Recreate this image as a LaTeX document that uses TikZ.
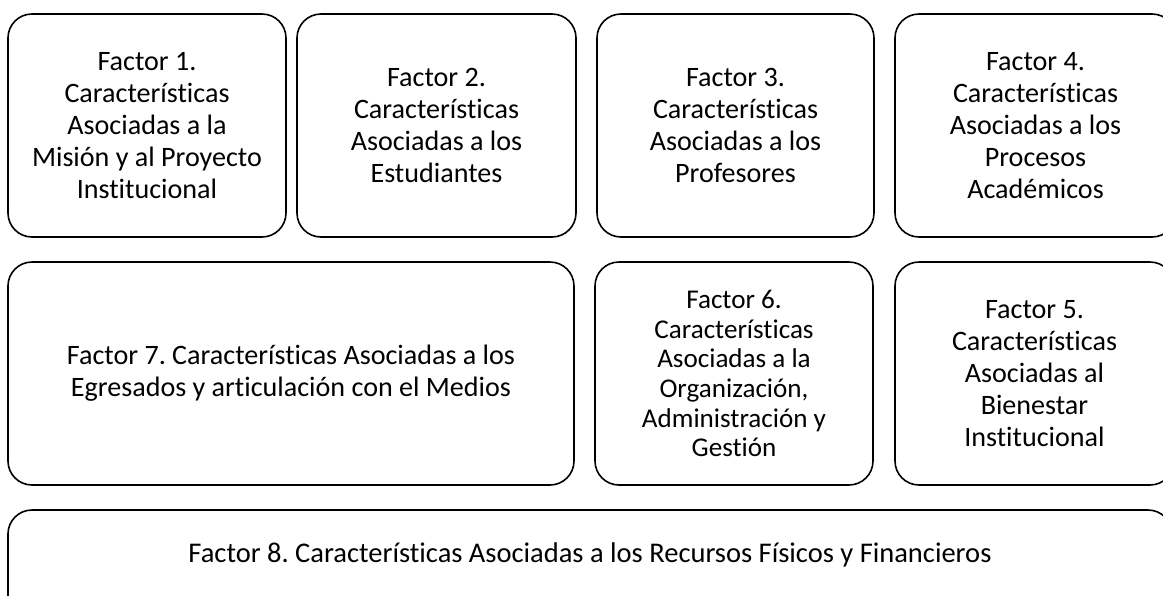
\documentclass[tikz,border=0pt]{standalone}
\usepackage{fontspec}
\setmainfont{Carlito}[RawFeature={-liga}]
\frenchspacing
\begin{document}
\begin{tikzpicture}[x=1pt,y=-1pt,
  fbox/.style={draw=black,line width=1.6pt,rounded corners=24pt,align=center,
    font=\fontsize{28.1}{32}\selectfont,inner sep=0pt},
  ftext/.style={font=\fontsize{28.5}{32}\selectfont,inner sep=0pt}]
\useasboundingbox (0,0) rectangle (1163,595);
\clip (0,0) rectangle (1163,595);
\node[fbox,minimum width=278pt,minimum height=223pt] (f1) at (147,125.5)
  {Factor 1.\\Características\\Asociadas a la\\Misión y al Proyecto\\Institucional};
\node[fbox,minimum width=279pt,minimum height=223pt] (f2) at (436.5,125.5)
  {Factor 2.\\Características\\Asociadas a los\\Estudiantes};
\node[fbox,minimum width=277pt,minimum height=223pt] (f3) at (735.5,125.5)
  {Factor 3.\\Características\\Asociadas a los\\Profesores};
\node[fbox,minimum width=281pt,minimum height=223pt] (f4) at (1035.5,125.5)
  {Factor 4.\\Características\\Asociadas a los\\Procesos\\Académicos};
\node[fbox,minimum width=566pt,minimum height=223pt] (f7) at (291,373.5)
  {Factor 7. Características Asociadas a los\\Egresados y articulación con el Medios};
\node[fbox,minimum width=278pt,minimum height=223pt,font=\fontsize{27.1}{29.7}\selectfont] (f6) at (734,373.5)
  {Factor 6.\\Características\\Asociadas a la\\Organización,\\Administración y\\Gestión};
\node[fbox,minimum width=279pt,minimum height=223pt] (f5) at (1034.5,373.5)
  {Factor 5.\\Características\\Asociadas al\\Bienestar\\Institucional};
\node[fbox,minimum width=1164pt,minimum height=120pt] (f8) at (590,570) {};
\node[ftext] (f8t) at (590,555)
  {Factor 8. Características Asociadas a los Recursos Físicos y Financieros};
\end{tikzpicture}
\end{document}
